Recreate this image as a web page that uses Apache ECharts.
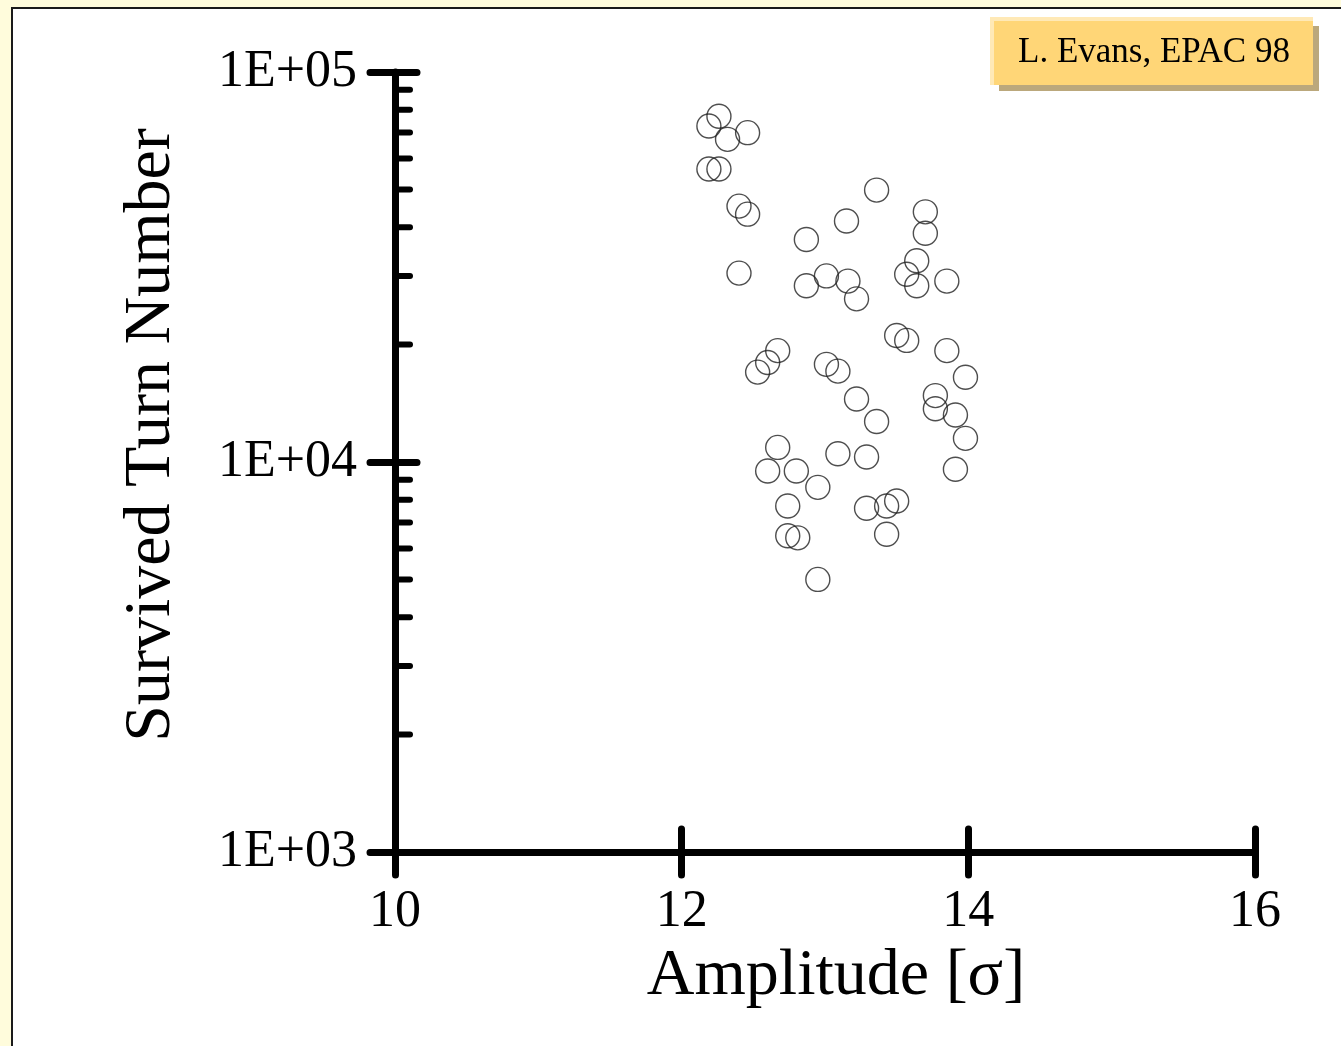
<!DOCTYPE html>
<html>
<head>
<meta charset="utf-8">
<title>Survived Turn Number</title>
<script src="https://cdn.jsdelivr.net/npm/echarts@6/dist/echarts.min.js"></script>
<style>
	html, body { margin: 0; padding: 0; background: #fffcdc; }
	#chart { width: 1341px; height: 1046px; }
</style>
</head>
<body>
<div id="chart"></div>
<script>
	// amplitude [sigma] of each particle
	var amplitude = [
		12.26, 12.19, 12.32, 12.46, 12.19, 12.26, 12.40, 12.46, 13.36, 13.15,
		12.87, 13.70, 13.70, 12.40, 12.87, 13.01, 13.16, 13.22, 13.64, 13.57,
		13.64, 13.85, 13.50, 13.57, 12.67, 13.85, 12.60, 12.53, 13.01, 13.09,
		13.98, 13.22, 13.77, 13.77, 13.91, 13.36, 13.98, 12.67, 13.09, 13.29,
		12.60, 12.80, 12.95, 13.91, 12.74, 13.29, 13.43, 13.50, 12.74, 12.81,
		13.43, 12.95
	];
	// turns survived
	var turns = [
		77000, 72700, 67200, 69900, 56400, 56400, 45300, 43200, 49800, 41500,
		37200, 43800, 38600, 30500, 28300, 30000, 29100, 26200, 32800, 30300,
		28300, 29100, 21100, 20500, 19300, 19300, 18000, 17000, 17800, 17100,
		16500, 14500, 14800, 13700, 13200, 12700, 11500, 10900, 10500, 10300,
		9480, 9480, 8610, 9580, 7710, 7610, 7710, 7940, 6470, 6390,
		6530, 5000
	];
	var xTicks = [10, 12, 14, 16];
	var yTickLabels = ['1E+03', '1E+04', '1E+05'];
	var yMinorTicks = [2000, 3000, 4000, 5000, 6000, 7000, 8000, 9000,
		20000, 30000, 40000, 50000, 60000, 70000, 80000, 90000];

	var serif = '"Liberation Serif", "DejaVu Serif", serif';
	var lw = 7;

	var points = amplitude.map(function(a, i) { return [a, turns[i]]; });

	var chart = echarts.init(document.getElementById('chart'));

	function yAxisBase(inside) {
		return {
			type: 'log',
			logBase: 10,
			min: 1000,
			max: 100000,
			position: 'left',
			axisLine: { show: !inside, lineStyle: { color: '#000', width: lw, cap: 'round' } },
			axisTick: { show: true, inside: inside, length: inside ? 22 : 25, lineStyle: { color: '#000', width: lw, cap: 'round' } },
			axisLabel: {
				show: !inside,
				showMinLabel: true,
				showMaxLabel: true,
				hideOverlap: false,
				margin: 38,
				color: '#000',
				fontFamily: serif,
				fontSize: 52,
				padding: [16, 0, 0, 0],
				formatter: function(v) {
					return yTickLabels[Math.round(Math.log10(v)) - 3];
				}
			},
			splitLine: { show: false }
		};
	}

	function xAxisBase(inside) {
		return {
			type: 'value',
			min: xTicks[0],
			max: xTicks[xTicks.length - 1],
			interval: 2,
			position: 'bottom',
			axisLine: { show: !inside, lineStyle: { color: '#000', width: lw, cap: 'round' } },
			axisTick: { show: true, inside: inside, length: 23, lineStyle: { color: '#000', width: lw, cap: 'round' } },
			axisLabel: {
				show: !inside,
				margin: 34,
				color: '#000',
				fontFamily: serif,
				fontSize: 52
			},
			splitLine: { show: false }
		};
	}

	var xMain = xAxisBase(false);
	xMain.name = 'Amplitude [σ]';
	xMain.nameLocation = 'middle';
	xMain.nameGap = 92;
	xMain.nameTextStyle = { color: '#000', fontFamily: serif, fontSize: 66, padding: [0, 0, 0, 22] };

	var yMain = yAxisBase(false);
	yMain.name = 'Survived Turn Number';
	yMain.nameLocation = 'middle';
	yMain.nameRotate = 90;
	yMain.nameGap = 210;
	yMain.nameTextStyle = { color: '#000', fontFamily: serif, fontSize: 66, padding: [0, 0, 0, 54] };

	var option = {
		backgroundColor: '#fffcdc',
		animation: false,
		graphic: [
			{ // white panel
				type: 'rect', z: -10, silent: true,
				shape: { x: 12, y: 8, width: 1400, height: 1100 },
				style: { fill: '#fff', stroke: '#1a1a1a', lineWidth: 2 }
			},
			{ // citation box
				type: 'group', z: 10, silent: true,
				children: [
					{ type: 'rect', shape: { x: 999, y: 26, width: 320, height: 65 }, style: { fill: '#bba87c' } },
					{ type: 'rect', shape: { x: 990, y: 17, width: 323, height: 68 }, style: { fill: '#ffe9b6' } },
					{ type: 'rect', shape: { x: 994, y: 21, width: 319, height: 64 }, style: { fill: '#ffd677' } },
					{ type: 'text', x: 1154, y: 53, style: { text: 'L. Evans, EPAC 98', fontFamily: serif, fontSize: 35, fill: '#000', align: 'center', verticalAlign: 'middle' } }
				]
			}
		],
		grid: {
			left: 395,
			right: 86,
			top: 72,
			bottom: 194
		},
		xAxis: [xMain, xAxisBase(true)],
		yAxis: [yMain, yAxisBase(true)],
		series: [{
			type: 'scatter',
			data: points,
			symbol: 'circle',
			symbolSize: 24,
			itemStyle: { color: 'rgba(0,0,0,0)', borderColor: '#222', borderWidth: 1.4 },
			z: 5
		}, {
			// minor ticks of the log axis, on the inside
			type: 'custom',
			data: yMinorTicks,
			clip: false,
			silent: true,
			z: 6,
			encode: { y: 0 },
			renderItem: function(params, api) {
				var p = api.coord([xTicks[0], api.value(0)]);
				return {
					type: 'line',
					shape: { x1: p[0], y1: p[1], x2: p[0] + 15, y2: p[1] },
					style: { stroke: '#000', lineWidth: 6, lineCap: 'round' }
				};
			}
		}]
	};
	chart.setOption(option);
</script>
</body>
</html>
